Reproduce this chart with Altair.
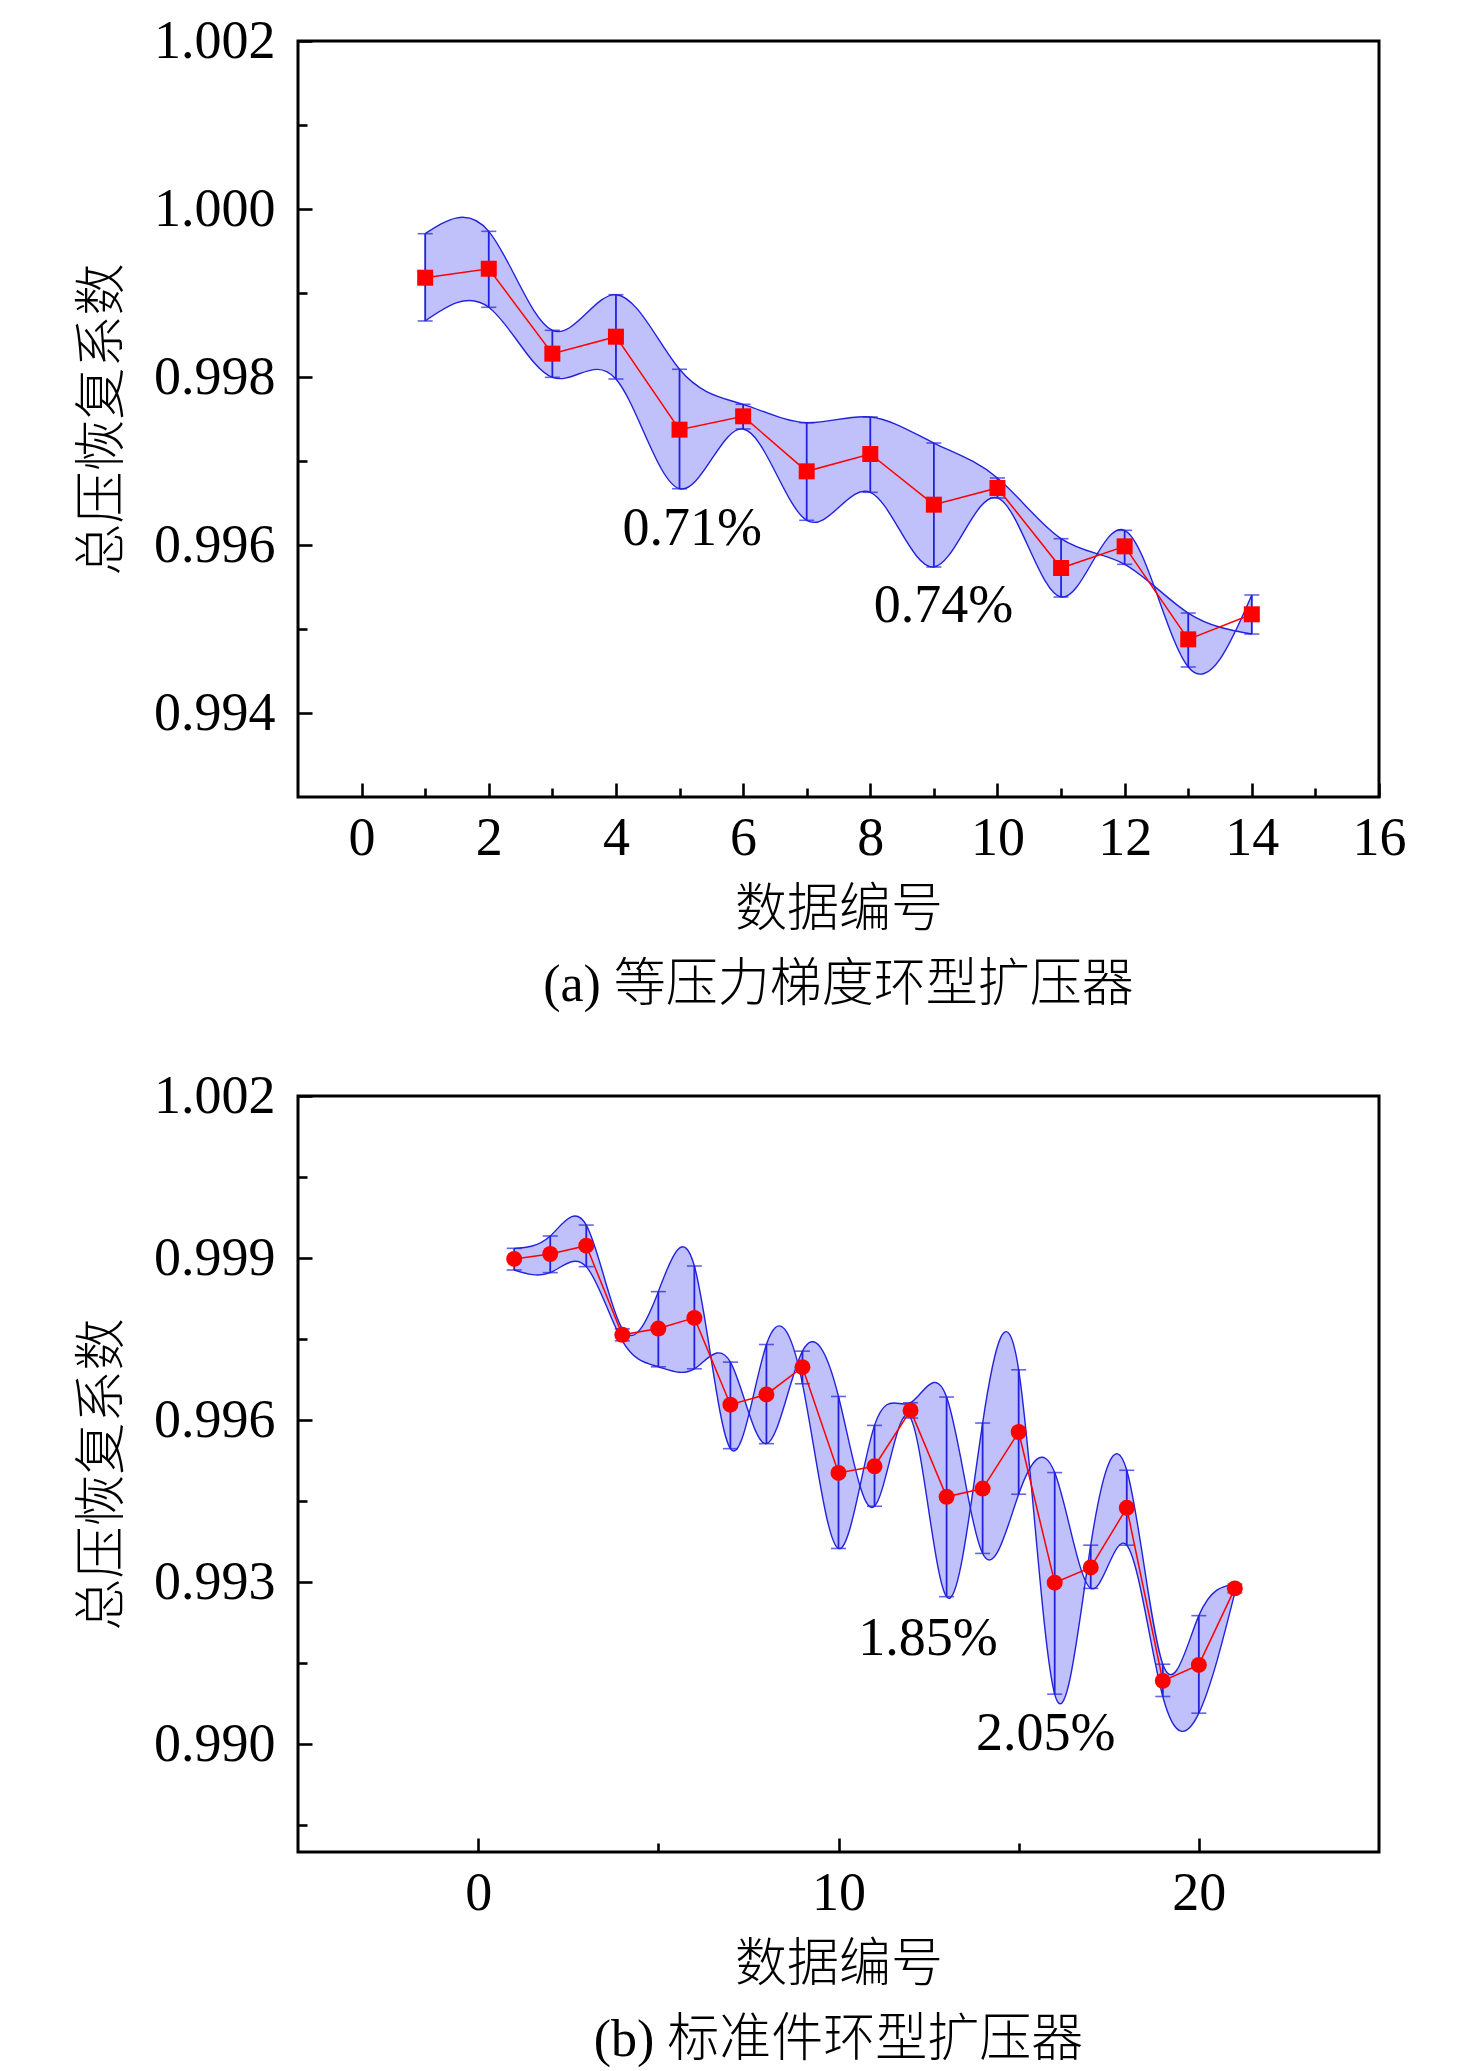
import altair as alt
import pandas as pd

# ---------------- panel (a) ----------------
a_x = list(range(1, 15))
a_y = [0.999182, 0.999289, 0.998278, 0.998480, 0.997373, 0.997532, 0.996877,
       0.997083, 0.996480, 0.996679, 0.995726, 0.995984, 0.994877, 0.995175]
a_upper = [0.999706, 0.999734, 0.998556, 0.998980, 0.998092, 0.997675, 0.997456,
           0.997524, 0.997214, 0.996798, 0.996075, 0.996175, 0.995190, 0.995405]
a_lower = [0.998667, 0.998830, 0.997996, 0.997976, 0.996670, 0.997381, 0.996294,
           0.996627, 0.995738, 0.996560, 0.995381, 0.995770, 0.994548, 0.994940]
# 1 where the first band edge runs through the lower error-bar end
a_swap = [0, 0, 0, 0, 0, 0, 0, 0, 0, 0, 0, 1, 0, 1]
a_notes = ["0.71%", "0.74%"]
a_note_x = [5.2, 9.15]
a_note_y = [0.99600, 0.99508]
a_xmajor = [0, 2, 4, 6, 8, 10, 12, 14, 16]
a_xminor = [1, 3, 5, 7, 9, 11, 13, 15]
a_ymajor = [0.994, 0.996, 0.998, 1.000, 1.002]
a_yminor = [0.995, 0.997, 0.999, 1.001]
a_title = "(a) 等压力梯度环型扩压器"

# ---------------- panel (b) ----------------
b_x = list(range(1, 22))
b_y = [0.998982, 0.999074, 0.999228, 0.997577, 0.997694, 0.997891, 0.996283,
       0.996473, 0.996979, 0.995020, 0.995143, 0.996178, 0.994577, 0.994730,
       0.995778, 0.992987, 0.993270, 0.994373, 0.991169, 0.991464, 0.992882]
b_upper = [0.999179, 0.999407, 0.999610, 0.997688, 0.998377, 0.998852, 0.997072,
           0.997398, 0.997275, 0.996436, 0.995900, 0.996320, 0.996425, 0.995944,
           0.996930, 0.995026, 0.993682, 0.995069, 0.991477, 0.992377, 0.992961]
b_lower = [0.998778, 0.998729, 0.998840, 0.997466, 0.996985, 0.996948, 0.995469,
           0.995562, 0.996671, 0.993621, 0.994403, 0.996037, 0.992728, 0.993529,
           0.994625, 0.990923, 0.992882, 0.993682, 0.990880, 0.990571, 0.992802]
b_swap = [0, 0, 0, 0, 0, 0, 1, 0, 1, 1, 0, 0, 0, 1, 1, 0, 1, 1, 1, 1, 1]
b_notes = ["1.85%", "2.05%"]
b_note_x = [12.48, 15.75]
b_note_y = [0.99165, 0.98989]
b_xmajor = [0, 10, 20]
b_xminor = [5, 15]
b_ymajor = [0.990, 0.993, 0.996, 0.999, 1.002]
b_yminor = [0.9885, 0.9915, 0.9945, 0.9975, 1.0005]
b_title = "(b) 标准件环型扩压器"

SERIF = "Liberation Serif"
CJK = "Noto Sans CJK SC"
MIXED = "Liberation Serif, Noto Sans CJK SC"
BLUE = "#2222dd"
FILL = "#c0c0fa"
RED = "#ff0000"
W, H = 1081, 756


def major_axis(orient, values, title, fmt):
    return alt.Axis(
        orient=orient, values=values, format=fmt, offset=-14, tickSize=14,
        tickWidth=2.6, tickColor="black", domain=False, grid=False,
        labelFont=SERIF, labelFontSize=54, labelColor="black",
        labelPadding=14 if orient == "bottom" else 23,
        labelFlush=False, labelOverlap=False,
        title=title, titleFont=CJK, titleFontSize=52, titleFontWeight=300,
        titleColor="black", titlePadding=19 if orient == "bottom" else 24,
    )


def minor_axis(orient, values):
    return alt.Axis(
        orient=orient, values=values, offset=-9, tickSize=9, tickWidth=2.6,
        tickColor="black", domain=False, grid=False, labels=False, title=None,
    )


def panel(xs, ys, up, lo, swap, xdom, ydom, xmaj, xmin, ymaj, ymin,
          notes, nx, ny, shape, title):
    df = pd.DataFrame({"x": xs, "y": ys, "up": up, "lo": lo})
    df["ea"] = [l if s else u for u, l, s in zip(up, lo, swap)]
    df["eb"] = [u if s else l for u, l, s in zip(up, lo, swap)]
    notes_df = pd.DataFrame({"x": nx, "y": ny, "t": notes})

    xsc = alt.Scale(domain=xdom, nice=False, zero=False)
    ysc = alt.Scale(domain=ydom, nice=False, zero=False)
    X = alt.X("x:Q", scale=xsc, axis=None)
    base = alt.Chart(df)

    band = base.mark_area(interpolate="natural", color=FILL, opacity=1).encode(
        x=X, y=alt.Y("ea:Q", scale=ysc, axis=None), y2="eb:Q")
    edge_a = base.mark_line(interpolate="natural", color=BLUE, strokeWidth=1.4).encode(
        x=X, y=alt.Y("ea:Q", scale=ysc, axis=None))
    edge_b = base.mark_line(interpolate="natural", color=BLUE, strokeWidth=1.4).encode(
        x=X, y=alt.Y("eb:Q", scale=ysc, axis=None))
    bars = base.mark_rule(color=BLUE, strokeWidth=1.8).encode(
        x=X, y=alt.Y("lo:Q", scale=ysc, axis=None), y2="up:Q")
    cap_hi = base.mark_tick(orient="horizontal", size=15, thickness=1.6, color=BLUE).encode(
        x=X, y=alt.Y("up:Q", scale=ysc, axis=None))
    cap_lo = base.mark_tick(orient="horizontal", size=15, thickness=1.6, color=BLUE).encode(
        x=X, y=alt.Y("lo:Q", scale=ysc, axis=None))
    link = base.mark_line(color=RED, strokeWidth=1.5).encode(
        x=alt.X("x:Q", scale=xsc, axis=minor_axis("bottom", xmin)),
        y=alt.Y("y:Q", scale=ysc, axis=minor_axis("left", ymin)))
    if shape == "square":
        pts = base.mark_square(size=256, color=RED, opacity=1)
    else:
        pts = base.mark_circle(size=255, color=RED, opacity=1)
    pts = pts.encode(
        x=alt.X("x:Q", scale=xsc, axis=major_axis("bottom", xmaj, "数据编号", "d")),
        y=alt.Y("y:Q", scale=ysc, axis=major_axis("left", ymaj, "总压恢复系数", ".3f")))
    txt = alt.Chart(notes_df).mark_text(
        font=SERIF, fontSize=54, color="black", align="center", baseline="alphabetic"
    ).encode(x=X, y=alt.Y("y:Q", scale=ysc, axis=None), text="t:N")

    return alt.layer(band, edge_a, edge_b, bars, cap_hi, cap_lo, link, pts, txt).resolve_axis(
        x="independent", y="independent"
    ).properties(
        width=W, height=H,
        title=alt.TitleParams(
            text=title, orient="bottom", frame="group", anchor="middle",
            font=MIXED, fontSize=52, fontWeight=300, color="black", offset=25),
    )


top = panel(a_x, a_y, a_upper, a_lower, a_swap, [-1, 16], [0.993, 1.002],
            a_xmajor, a_xminor, a_ymajor, a_yminor,
            a_notes, a_note_x, a_note_y, "square", a_title)
bottom = panel(b_x, b_y, b_upper, b_lower, b_swap, [-5, 25], [0.988, 1.002],
               b_xmajor, b_xminor, b_ymajor, b_yminor,
               b_notes, b_note_x, b_note_y, "circle", b_title)

chart = alt.vconcat(top, bottom, spacing=54).properties(
    padding={"left": 67, "top": 4, "right": 10, "bottom": 0},
    background="white",
).configure_view(stroke="black", strokeWidth=3)

chart.save("out.html", embed_options={"renderer": "svg", "actions": False})
